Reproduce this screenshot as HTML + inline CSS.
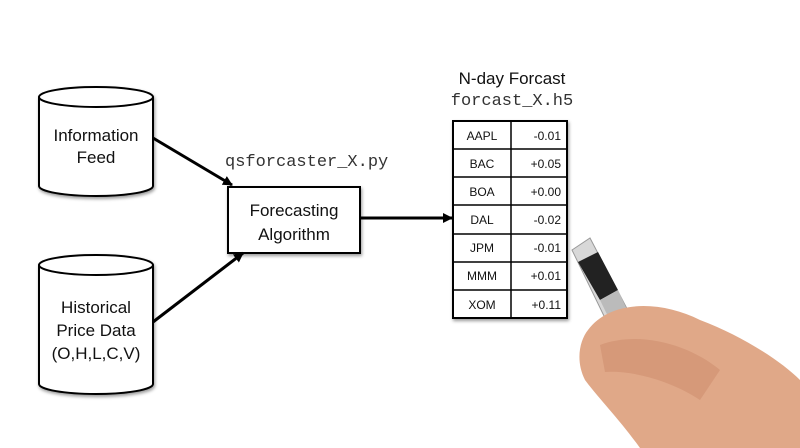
<!DOCTYPE html>
<html><head><style>
body{margin:0;background:#fff;}
svg{display:block}
text{font-family:"Liberation Sans",sans-serif;}
.m{font-family:"Liberation Mono",monospace;}
</style></head><body>
<svg width="800" height="448" viewBox="0 0 800 448">
<defs>
<marker id="a" markerWidth="10" markerHeight="10" refX="9" refY="5" orient="auto" markerUnits="userSpaceOnUse"><path d="M0,0 L10,5 L0,10 z" fill="#000"/></marker>
<filter id="s"><feDropShadow dx="1" dy="2" stdDeviation="1.5" flood-opacity="0.4"/></filter>
</defs>
<g filter="url(#s)" stroke="#000" stroke-width="2" fill="#fff">
<path d="M39,97 L39,186 A57,10 0 0 0 153,186 L153,97 A57,10 0 0 0 39,97 Z"/>
<path d="M39,97 A57,10 0 0 0 153,97"/>
<path d="M39,265 L39,384 A57,10 0 0 0 153,384 L153,265 A57,10 0 0 0 39,265 Z"/>
<path d="M39,265 A57,10 0 0 0 153,265"/>
<rect x="228" y="187" width="132" height="66"/>
<rect x="453" y="121" width="114" height="197"/>
</g>
<g stroke="#000" stroke-width="1.5">
<line x1="511" y1="121" x2="511" y2="318"/>
<line x1="453" y1="149" x2="567" y2="149"/>
<line x1="453" y1="177" x2="567" y2="177"/>
<line x1="453" y1="205" x2="567" y2="205"/>
<line x1="453" y1="234" x2="567" y2="234"/>
<line x1="453" y1="262" x2="567" y2="262"/>
<line x1="453" y1="290" x2="567" y2="290"/>
</g>
<g stroke="#000" stroke-width="3" marker-end="url(#a)">
<line x1="153" y1="138" x2="232" y2="185"/>
<line x1="153" y1="322" x2="243" y2="253"/>
<line x1="360" y1="218" x2="452" y2="218"/>
</g>
<g font-size="17" text-anchor="middle" fill="#111">
<text x="96" y="141">Information</text>
<text x="96" y="163">Feed</text>
<text x="96" y="313">Historical</text>
<text x="96" y="336">Price Data</text>
<text x="96" y="359">(O,H,L,C,V)</text>
<text x="294" y="216">Forecasting</text>
<text x="294" y="240">Algorithm</text>
<text x="512" y="84">N-day Forcast</text>
</g>
<text class="m" x="225" y="166" font-size="17" fill="#333">qsforcaster_X.py</text>
<text class="m" x="512" y="105" font-size="17" fill="#333" text-anchor="middle">forcast_X.h5</text>
<g font-size="12" fill="#111">
<g text-anchor="middle">
<text x="482" y="140">AAPL</text><text x="482" y="168">BAC</text><text x="482" y="196">BOA</text><text x="482" y="224">DAL</text><text x="482" y="252">JPM</text><text x="482" y="280">MMM</text><text x="482" y="309">XOM</text>
</g>
<g text-anchor="end">
<text x="561" y="140">-0.01</text><text x="561" y="168">+0.05</text><text x="561" y="196">+0.00</text><text x="561" y="224">-0.02</text><text x="561" y="252">-0.01</text><text x="561" y="280">+0.01</text><text x="561" y="309">+0.11</text>
</g>
</g>
<!-- pen -->
<path d="M572,250 L590,238 L700,448 L668,448 Z" fill="#d8d8d8" stroke="#999" stroke-width="1"/>
<path d="M578,262 L598,252 L618,290 L600,300 Z" fill="#222"/>
<path d="M600,300 L618,290 L690,448 L672,448 Z" fill="#bbb"/>
<!-- hand -->
<path d="M588,330 C610,300 660,300 700,320 C740,335 780,360 800,380 L800,448 L640,448 C620,420 600,400 585,380 C575,360 580,340 588,330 Z" fill="#e0a888"/>
<path d="M600,345 C640,330 690,345 720,370 L700,400 C670,380 630,370 605,372 Z" fill="#cf8f6f" opacity="0.6"/>
</svg>
</body></html>
